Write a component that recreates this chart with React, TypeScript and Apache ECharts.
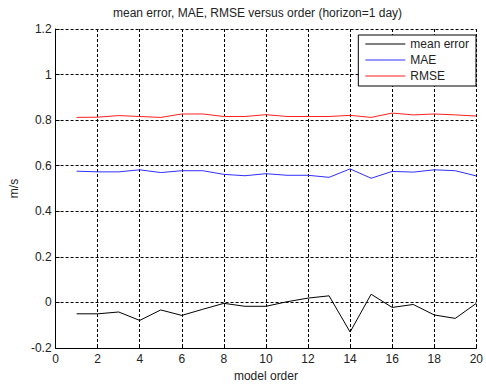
import React, { useEffect, useRef } from "react";
import * as echarts from "echarts";

const orders = [1, 2, 3, 4, 5, 6, 7, 8, 9, 10, 11, 12, 13, 14, 15, 16, 17, 18, 19, 20];
const meanError = [-0.05, -0.05, -0.042, -0.079, -0.033, -0.057, -0.03, -0.004, -0.017, -0.017, 0.003, 0.019, 0.029, -0.13, 0.036, -0.022, -0.009, -0.055, -0.07, -0.004];
const mae = [0.576, 0.573, 0.573, 0.582, 0.57, 0.578, 0.578, 0.562, 0.556, 0.565, 0.558, 0.558, 0.549, 0.586, 0.545, 0.575, 0.572, 0.582, 0.578, 0.555];
const rmse = [0.812, 0.813, 0.82, 0.816, 0.812, 0.827, 0.827, 0.816, 0.816, 0.824, 0.816, 0.816, 0.816, 0.821, 0.812, 0.831, 0.823, 0.827, 0.823, 0.818];

const seriesNames = ["mean error", "MAE", "RMSE"];
const seriesColors = ["#000000", "#3030ff", "#ff2020"];

const FONT = "'Liberation Sans', Arial, sans-serif";
const TXT = "#222";
const LINE_ICON = "path://M0,0 H40 V1 H0 Z";

export default function App() {
  const ref = useRef<HTMLDivElement>(null);
  useEffect(() => {
    const chart = echarts.init(ref.current!, null, { renderer: "svg" });
    const pair = (ys: number[]) => orders.map((x, i) => [x, ys[i]]);
    const values = [meanError, mae, rmse];
    const gridLine = { show: true, lineStyle: { color: "#000", type: [3, 2] as any, width: 1 } };
    chart.setOption({
      animation: false,
      backgroundColor: "#fff",
      textStyle: { fontFamily: FONT },
      title: {
        text: "mean error, MAE, RMSE versus order (horizon=1 day)",
        left: 113,
        top: 7,
        padding: 0,
        textStyle: { fontSize: 12, fontWeight: "normal", color: TXT, fontFamily: FONT },
      },
      grid: { left: 55, right: 4, top: 29, bottom: 34, containLabel: false },
      legend: {
        orient: "vertical",
        right: 10,
        top: 35,
        padding: [3, 7, 4, 7],
        itemGap: 4,
        itemWidth: 40,
        itemHeight: 14,
        itemTextGap: 5,
        symbolKeepAspect: true,
        backgroundColor: "#fff",
        borderColor: "#000",
        borderWidth: 1,
        borderRadius: 0,
        textStyle: { fontSize: 12, color: TXT, fontFamily: FONT, padding: [0, 0, 0, 0] },
        data: seriesNames.map((n, i) => ({
          name: n,
          icon: LINE_ICON,
          itemStyle: { color: seriesColors[i], borderWidth: 0 },
          lineStyle: { color: seriesColors[i], width: 0 },
        })),
      },
      xAxis: {
        type: "value",
        min: 0,
        max: 20,
        interval: 2,
        name: "model order",
        nameLocation: "middle",
        nameGap: 22,
        nameTextStyle: { fontSize: 12, color: TXT, fontFamily: FONT },
        axisLine: { show: true, onZero: false, lineStyle: { color: "#000", width: 1 } },
        axisTick: { show: true, inside: true, length: 4, lineStyle: { color: "#000" } },
        axisLabel: { fontSize: 12, color: TXT, margin: 5, fontFamily: FONT },
        splitLine: gridLine,
      },
      yAxis: {
        type: "value",
        min: -0.2,
        max: 1.2,
        interval: 0.2,
        name: "m/s",
        nameLocation: "middle",
        nameRotate: 90,
        nameGap: 34,
        nameTextStyle: { fontSize: 12, color: TXT, fontFamily: FONT },
        axisLine: { show: true, onZero: false, lineStyle: { color: "#000", width: 1 } },
        axisTick: { show: true, inside: true, length: 4, lineStyle: { color: "#000" } },
        axisLabel: {
          fontSize: 12,
          color: TXT,
          margin: 4,
          fontFamily: FONT,
          formatter: (v: number) => String(Number(v.toFixed(1))),
        },
        splitLine: gridLine,
      },
      series: seriesNames.map((n, i) => ({
        name: n,
        type: "line",
        data: pair(values[i]),
        symbol: "none",
        lineStyle: { color: seriesColors[i], width: 1 },
        itemStyle: { color: seriesColors[i] },
      })),
    });
    return () => chart.dispose();
  }, []);
  return <div ref={ref} style={{ position: "fixed", left: 0, top: 0, width: 486, height: 387 }} />;
}
